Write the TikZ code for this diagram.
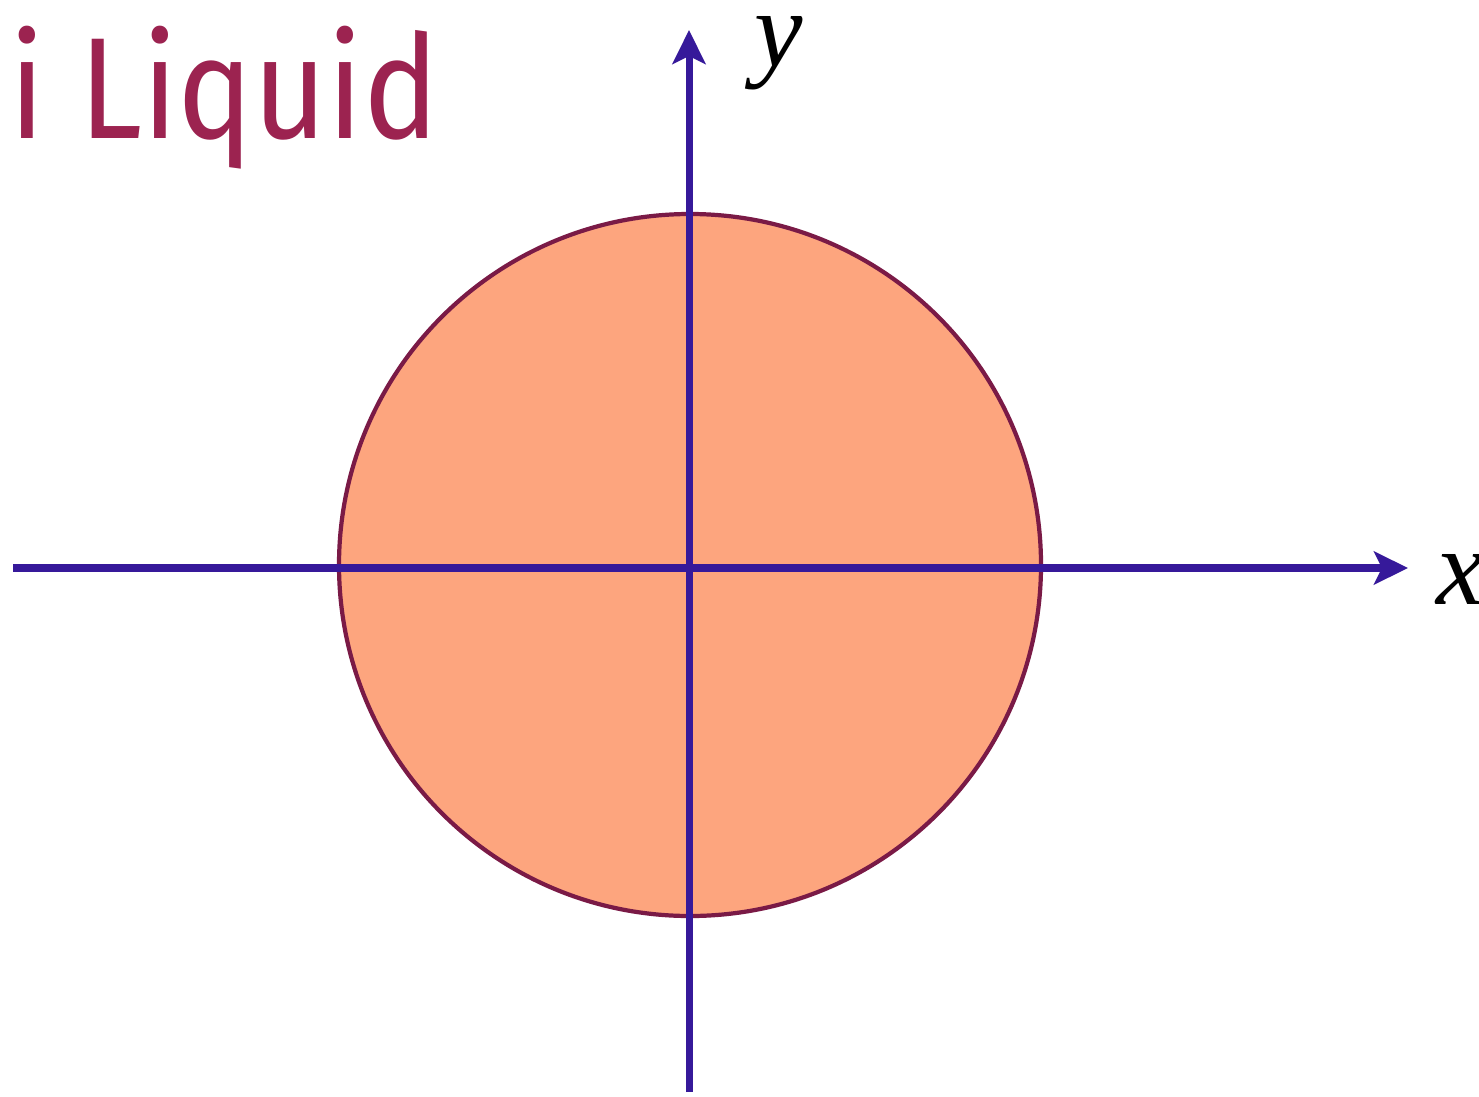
\documentclass[tikz,border=0pt]{standalone}
\usepackage{fontspec}
\usepackage{xcolor}
\usepackage{tikz}
\usetikzlibrary{arrows.meta}
\setmainfont{Liberation Serif}
\newfontfamily\titlefont[FakeStretch=0.88]{Fira Sans}
\definecolor{FLAxis}{HTML}{36199A}
\definecolor{FLFill}{HTML}{FDA57E}
\definecolor{FLEdge}{HTML}{7A1A46}
\definecolor{FLTitle}{HTML}{9C2350}
\tikzset{
  axisline/.style={draw=FLAxis,line width=2pt,-{Stealth[length=0.34cm,width=0.33cm,inset=0.08cm]}},
  axislabel/.style={font=\fontsize{31}{31}\selectfont\itshape,inner sep=0pt},
  fermisea/.style={draw=FLEdge,fill=FLFill,line width=1.2pt}
}
\begin{document}
\begin{tikzpicture}[x=1cm,y=1cm]
\clip (0,0) rectangle (14.79,10.96);
\node[anchor=base east,inner sep=0pt,text=FLTitle,font=\titlefont\fontsize{41}{41}\selectfont] (title) at (4.40,9.58) {Fermi Liquid};
\fill[fermisea] (6.90,5.31) circle (3.51);
\coordinate (xstart) at (0.13,5.28);
\coordinate (xend) at (14.08,5.28);
\coordinate (ystart) at (6.89,0.04);
\coordinate (yend) at (6.89,10.66);
\draw[axisline] (xstart) -- (xend);
\draw[axisline] (ystart) -- (yend);
\node[axislabel,anchor=west] (xlabel) at (14.36,5.17) {x};
\node[axislabel,anchor=south west] (ylabel) at (7.54,10.05) {y};
\end{tikzpicture}
\end{document}
